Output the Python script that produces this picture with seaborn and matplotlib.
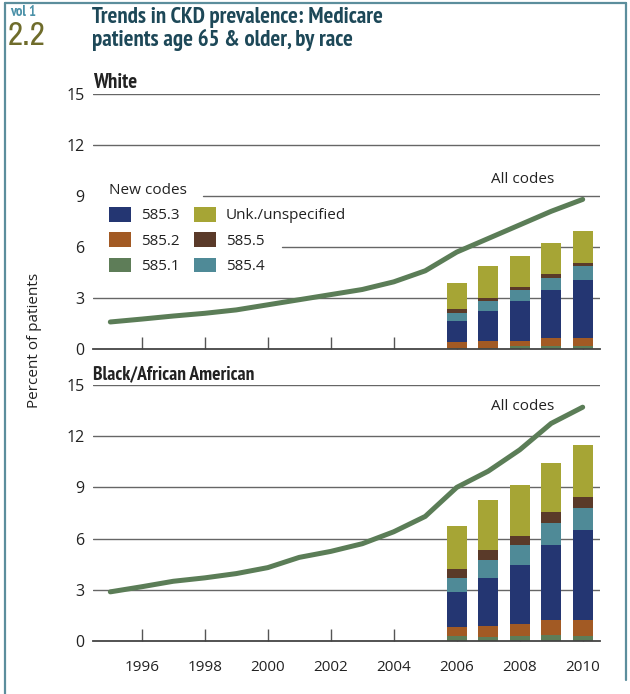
import numpy as np
import pandas as pd
import seaborn as sns
import matplotlib.pyplot as plt
from matplotlib import font_manager as fm
from matplotlib.lines import Line2D
from matplotlib.patches import Patch

# ---- data ----
years = list(range(1995, 2011))
white_all = [1.59, 1.76, 1.94, 2.1, 2.3, 2.6, 2.9, 3.2, 3.5, 3.95, 4.6, 5.7, 6.5, 7.3, 8.1, 8.8]
black_all = [2.88, 3.18, 3.5, 3.7, 3.95, 4.3, 4.9, 5.25, 5.7, 6.4, 7.3, 9.0, 9.95, 11.2, 12.75, 13.7]

bar_years = [2006, 2007, 2008, 2009, 2010]
codes = ['585.1', '585.2', '585.3', '585.4', '585.5', 'Unk./unspecified']  # stacked bottom -> top

white_new = {
    '585.1': [0.06, 0.08, 0.16, 0.16, 0.16],
    '585.2': [0.37, 0.41, 0.33, 0.47, 0.51],
    '585.3': [1.24, 1.76, 2.35, 2.86, 3.41],
    '585.4': [0.47, 0.59, 0.65, 0.71, 0.82],
    '585.5': [0.23, 0.18, 0.18, 0.23, 0.18],
    'Unk./unspecified': [1.53, 1.88, 1.82, 1.82, 1.88],
}
black_new = {
    '585.1': [0.29, 0.25, 0.29, 0.35, 0.29],
    '585.2': [0.53, 0.63, 0.71, 0.89, 0.95],
    '585.3': [2.06, 2.83, 3.47, 4.41, 5.29],
    '585.4': [0.83, 1.05, 1.18, 1.29, 1.29],
    '585.5': [0.53, 0.59, 0.53, 0.59, 0.59],
    'Unk./unspecified': [2.52, 2.94, 2.94, 2.88, 3.06],
}

colors = {
    '585.1': '#5e7d58',
    '585.2': '#a25a24',
    '585.3': '#243672',
    '585.4': '#4f8a97',
    '585.5': '#5a3a29',
    'Unk./unspecified': '#a6a535',
}
line_color = '#5b7d57'
legend_order = ['585.3', '585.2', '585.1', 'Unk./unspecified', '585.5', '585.4']

sns.set_theme(style='white')
plt.rcParams['font.family'] = ['Open Sans', 'DejaVu Sans']


# pick a condensed face if one is installed (the original uses a condensed sans)
def condensed_font(bold):
    picks = []
    for f in fm.fontManager.ttflist:
        fn = f.fname.lower()
        if not ('narrow' in fn or 'condensed' in fn or f.stretch in ('condensed', 'semi-condensed')):
            continue
        if 'italic' in fn or 'oblique' in fn:
            continue
        isbold = 'bold' in fn or f.weight in ('bold', 700)
        if isbold == bold:
            picks.append(f.fname)
    picks.sort(key=lambda p: ('narrow' not in p.lower(), 'semi' in p.lower()))
    if picks:
        return fm.FontProperties(fname=picks[0])
    return fm.FontProperties(family='Roboto', weight='bold' if bold else 'normal')


cond_bold = condensed_font(True)
cond_reg = condensed_font(False)


def fp(base, size):
    p = base.copy()
    p.set_size(size)
    return p


fig = plt.figure(figsize=(6.3, 6.94), dpi=100)
W, H = 630, 694


def panel(rect_px, all_codes, new_codes, name, name_size, show_labels, label_xy):
    x0, y_top, x1, y_bot = rect_px
    ax = fig.add_axes([x0 / W, 1 - y_bot / H, (x1 - x0) / W, (y_bot - y_top) / H])
    ax.set_axisbelow(True)

    df = pd.DataFrame({'year': years, 'pct': all_codes})
    sns.lineplot(data=df, x='year', y='pct', ax=ax, color=line_color, lw=3.6,
                 solid_capstyle='round', zorder=3)

    bottom = np.zeros(len(bar_years))
    for c in codes:
        vals = np.array(new_codes[c])
        ax.bar(bar_years, vals, bottom=bottom, width=0.63, color=colors[c],
               edgecolor='none', zorder=2)
        bottom += vals

    ax.set_xlim(1994.45, 2010.55)
    ax.set_ylim(0, 15)
    ax.set_yticks([0, 3, 6, 9, 12, 15])
    ax.set_xticks(list(range(1996, 2011, 2)))
    ax.grid(False)
    for s in ['top', 'right', 'left']:
        ax.spines[s].set_visible(False)
    ax.spines['bottom'].set_color('#444444')
    ax.spines['bottom'].set_linewidth(1.3)
    ax.tick_params(axis='y', length=0, pad=6, labelsize=11.5, labelcolor='#222222')
    ax.tick_params(axis='x', direction='in', length=9, width=1, color='#555555',
                   pad=14, labelsize=11, labelcolor='#222222', bottom=True)
    if not show_labels:
        ax.set_xticklabels([])
    ax.set_xlabel('')
    ax.set_ylabel('')
    ax.text(0.0, 1.008, name, transform=ax.transAxes, ha='left', va='bottom',
            fontproperties=fp(cond_bold, name_size), color='#222222')
    ax.text(label_xy[0], label_xy[1], 'All codes', ha='center', va='center',
            fontsize=11, color='#222222')
    return ax


ax1 = panel((93, 94, 600, 349), white_all, white_new, 'White', 15, False, (2008.1, 9.95))
ax2 = panel((93, 385, 600, 641), black_all, black_new, 'Black/African American', 14,
            True, (2008.1, 13.75))

# horizontal rules; in the top panel the legend block cuts the 6 and 9 rules
grid_kw = dict(color='#666666', lw=1.0, zorder=0)
for ax in (ax1, ax2):
    for v in (3, 12, 15):
        ax.axhline(v, **grid_kw)
ax2.axhline(6, **grid_kw)
ax2.axhline(9, **grid_kw)
ax1.axhline(9, xmin=(203 - 93) / 507, **grid_kw)
ax1.axhline(6, xmin=(282 - 93) / 507, **grid_kw)

handles = [Patch(facecolor=colors[c], edgecolor='none') for c in legend_order]
leg = ax1.legend(handles, legend_order, title='New codes', ncol=2, loc='upper left',
                 bbox_to_anchor=(0.02, 0.675), frameon=False, fontsize=11,
                 title_fontsize=11, handlelength=1.4, handleheight=1.1,
                 handletextpad=0.65, columnspacing=1.0, labelspacing=0.58,
                 alignment='left', borderaxespad=0)
for t in leg.get_texts() + [leg.get_title()]:
    t.set_color('#222222')

fig.text(35 / W, 1 - 340 / H, 'Percent of patients', rotation=90, ha='center',
         va='center', fontsize=11, color='#222222')

# header
fig.text(10 / W, 1 - 5 / H, 'vol 1', ha='left', va='top',
         fontproperties=fp(cond_bold, 10.5), color='#4b91a8')
fig.text(8 / W, 1 - 21 / H, '2.2', ha='left', va='top',
         fontproperties=fp(cond_reg, 24), color='#6f6c2b')
fig.text(92 / W, 1 - 7 / H, 'Trends in CKD prevalence: Medicare\npatients age 65 & older, by race',
         ha='left', va='top', fontproperties=fp(cond_bold, 16.5), color='#1d4858',
         linespacing=1.08)

# outer frame
frame_kw = dict(color='#5c8e9c', lw=1.6, transform=fig.transFigure)
fig.add_artist(Line2D([5 / W, 5 / W], [0, 1 - 3 / H], **frame_kw))
fig.add_artist(Line2D([5 / W, 626 / W], [1 - 3 / H, 1 - 3 / H], **frame_kw))
fig.add_artist(Line2D([626 / W, 626 / W], [0.02, 1 - 3 / H], **frame_kw))

fig.savefig('out.png', dpi=100)
